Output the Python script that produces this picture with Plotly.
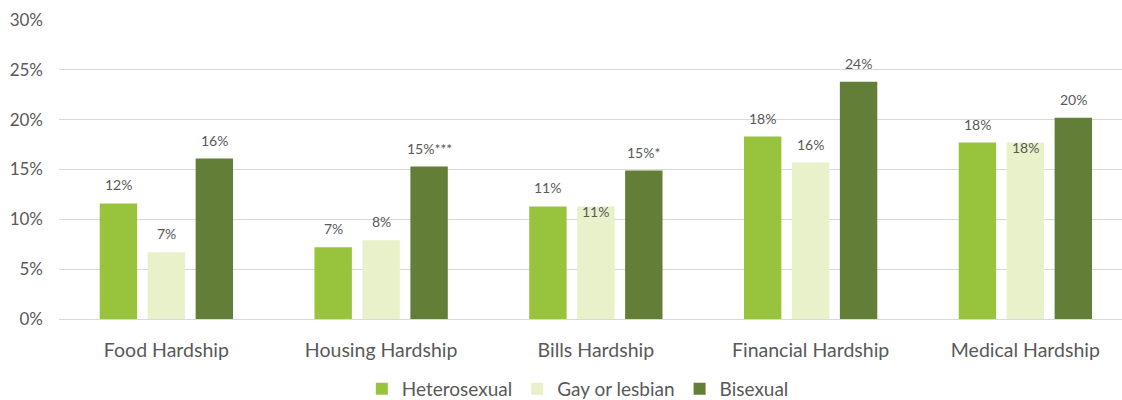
import plotly.graph_objects as go

# Hardship categories and share of each group reporting it (%)
categories = ["Food Hardship", "Housing Hardship", "Bills Hardship",
              "Financial Hardship", "Medical Hardship"]
heterosexual = [11.6, 7.2, 11.3, 18.3, 17.7]
gay_lesbian = [6.7, 7.9, 11.3, 15.7, 17.7]
bisexual = [16.1, 15.3, 14.9, 23.8, 20.2]

# Printed labels (with significance markers)
het_labels = ["12%", "7%", "11%", "18%", "18%"]
gay_labels = ["7%", "8%", "11%", "16%", "18%"]
bi_labels = ["16%", "15%***", "15%*", "24%", "20%"]

series = [
    ("Heterosexual", heterosexual, het_labels, "#98c43d"),
    ("Gay or lesbian", gay_lesbian, gay_labels, "#e8f1c9"),
    ("Bisexual", bisexual, bi_labels, "#637e37"),
]

W, H = 1122, 400
margin = dict(l=59, r=0, t=20, b=81, autoexpand=False)
x_range = [-0.5, 4.45]   # last category runs slightly past the right edge
bargap = 0.33
bargroupgap = 0.22
FONT = "Lato, 'Open Sans', sans-serif"

fig = go.Figure()
for name, vals, _, color in series:
    fig.add_trace(go.Bar(name=name, x=categories, y=vals, marker_color=color,
                         marker_line_width=0, hoverinfo="skip"))

# Pixel offset of each bar centre from the category centre
cat_px = (W - margin["l"] - margin["r"]) / (x_range[1] - x_range[0])
step_px = cat_px * (1 - bargap) / len(series)
font_lbl = dict(family=FONT, size=14, color="#595959")

for i, (name, vals, labels, _) in enumerate(series):
    dx = (i - 1) * step_px
    for j, (c, v, t) in enumerate(zip(categories, vals, labels)):
        # Gay-or-lesbian labels that sit on a bar of equal height drop onto it
        overlap = name == "Gay or lesbian" and gay_lesbian[j] == heterosexual[j]
        fig.add_annotation(x=c, y=v, text=t, showarrow=False, xshift=dx,
                           yanchor="middle" if overlap else "bottom",
                           yshift=(-5 if overlap else 8),
                           font=font_lbl)

fig.update_layout(
    width=W, height=H, margin=margin,
    barmode="group", bargap=bargap, bargroupgap=bargroupgap,
    paper_bgcolor="white", plot_bgcolor="white",
    font=dict(family=FONT, color="#595959"),
    legend=dict(orientation="h", xref="container", x=0.515, xanchor="center",
                y=-0.234, yanchor="middle",
                font=dict(size=19, color="#595959"),
                itemwidth=30, traceorder="normal"),
    showlegend=True,
)
fig.update_yaxes(range=[0, 30], dtick=5, ticksuffix="%", showgrid=True,
                 gridcolor="#d9d9d9", gridwidth=1, zeroline=False,
                 tickfont=dict(size=17, color="#595959"), ticklabelstandoff=15,
                 automargin=False, fixedrange=True)
fig.update_xaxes(range=x_range, showline=True, linecolor="#d9d9d9", linewidth=1,
                 tickfont=dict(size=19.5, color="#595959"), ticks="",
                 ticklabelstandoff=14, automargin=False, fixedrange=True)

fig.write_html("out.html")
